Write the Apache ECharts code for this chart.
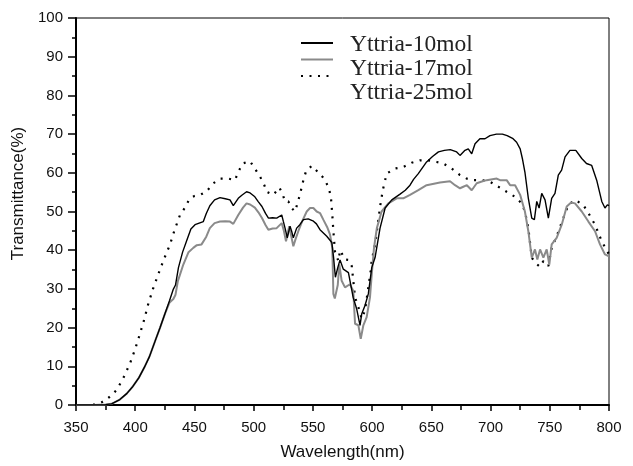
<!DOCTYPE html>
<html>
<head>
<meta charset="utf-8">
<script src="https://cdn.jsdelivr.net/npm/echarts@6/dist/echarts.min.js"></script>
<style>html,body{margin:0;padding:0;background:#fff;overflow:hidden}#c{width:100vw;height:100vh}</style>
</head>
<body>
<div id="c"></div>
<script>
const seriesNames = ['Yttria-10mol', 'Yttria-17mol', 'Yttria-25mol'];
const xTicks = [350, 400, 450, 500, 550, 600, 650, 700, 750, 800];
const yTicks = [0, 10, 20, 30, 40, 50, 60, 70, 80, 90, 100];

const wl10 = [350,365,375,380,387,393,398,403,408,412,417,421,425,429,432,434,436.5,440,443.5,447,450.5,454,457.5,460,463,467,471.6,476,480,482.8,487,490,494,497,501,504,507,510,512.5,516,519.4,523.7,525,526.5,528.4,530.7,532,533.5,536.3,539,542,546,550,553,556,561.7,566,567.5,569,571,572.9,575.7,580,581.6,584,587,589.8,591.2,594,596.8,599.7,602.5,606.7,611,616.6,623.6,628,632,635,639,646,651,656,661,666,671.4,674.2,678.4,681.2,684.1,686.9,691,695.3,699.5,705,710,714,719,722,725,727,729,731.9,734.8,737,739,741,743.2,746,748.8,751.6,754.4,757.2,760,762.9,767,772,777,781,785.4,789.6,793.9,796.6,798.6,800];
const t10 = [0,0,0.1,0.3,1.4,3,4.8,7,9.9,12.5,16.7,20,23.5,27,29.8,31,35.5,39.5,42.5,45.5,46.6,47,47.4,49.5,51.5,53,53.6,53.3,53,51.5,53.4,54.2,55.1,54.8,53.8,52.5,51.3,49.5,48.3,48.4,48.3,49.1,47.5,45.7,43.2,46.2,45,43.2,45.7,46.6,47.9,48.1,47.6,46.8,45.3,43.6,42,38,33,35.5,37.5,35.1,34.2,34.7,27.8,24.8,20.6,23.5,25.7,28.7,35.5,38.1,45.7,50.9,53,54.5,55.5,56.8,58.3,59.8,62.8,64.2,65.4,65.8,66,65.4,64.5,65.8,66.2,64.9,67.5,68.8,68.8,69.6,70,70,69.6,68.8,67.9,66.2,63.5,60.2,53.4,48.3,47.9,52.6,50.9,54.7,53,48.3,53.4,54.7,59.4,60.7,64.1,65.8,65.8,63.7,62.4,61.9,58.1,52.6,50.9,51.7,51.5];

const wl17 = [350,365,375,380,387,393,398,403,408,412,417,421,425,429,432.2,434,436,440.6,445,449,452,456,460,463,467,471.6,476,480,482.8,487,491,494,497,501,504,507,510,512.4,516,519.4,523.7,525.5,527.3,530,531.5,533.5,535.5,537.7,541,544.8,547.6,550.4,553.2,556,558.8,562,564.5,566.4,567.3,568.5,570.1,571,572.3,574.3,577.1,581.3,584.1,585.6,588.4,590.4,592.6,595.4,598.2,599.7,601.6,604,608,613.7,620.8,626.3,632,639,646,657.3,665.8,670,674.2,677,680,684.1,688.3,692,696.7,705.2,708,713.6,716.5,720.7,725,729,731.9,734.8,737.5,739.5,741.8,744.6,747.4,749.6,751.6,755.8,760.1,764.3,768,771.3,777,782.6,788.2,792.4,796.6,800];
const t17 = [0,0,0.1,0.3,1.4,3,4.8,7,9.9,12.5,16.7,20,23.5,26.5,27.4,28.5,32,36.3,39.5,40.6,41.3,41.5,43.5,45.7,47,47.4,47.5,47.4,46.8,49.1,51,52.1,51.8,51,49.8,48.3,46.5,45.3,45.6,45.7,47,45,42.3,46.2,44,41,43,44.9,47.5,50,50.9,50.9,50,49.6,47.9,46,44,40.6,28.7,27.5,27,31,36.3,32.1,30.4,31.2,29.5,21,20.6,17.1,20.6,22.7,27.8,33.8,40.6,45.7,50,52.1,53.4,53.4,54.3,55.5,56.8,57.5,57.8,56.8,56,56.4,56.8,55.5,57.3,57.7,58.1,58.5,58.1,58.1,56.8,56.8,54.3,50,44.9,38.1,40.2,37.6,40.2,38.1,40.2,36.3,41.5,43.2,46.6,51.3,52.3,52.1,50,47.4,44.9,41.5,38.9,38.4];

const wl25 = [350,360,366,371.7,378,384.4,390,395.6,400,404,407.5,411,415,419.5,424,429.4,433,437.8,442,446,450,454.7,460,466,472,478.6,484.2,487,490.7,496.9,501,505.4,509,511,516.6,521.7,524.5,526.5,529.3,532,534.9,536.8,539,542,544.2,549,554.6,558,561,563.9,565.3,566.4,567.3,568.7,570.1,571.5,573,574.3,577.1,580,582.8,585.6,588.4,591.2,594,596.8,598.8,599.6,602.5,604.4,606.7,609,612.3,619.3,626.3,633.4,640.4,647.4,654.5,660.1,667.2,674.2,679.9,685.5,692.5,699.5,706.6,713.6,720.7,726.3,729,731.9,734.8,737.5,741.8,744.6,748.8,751.6,755.8,761.4,765.7,771.3,778.3,782.6,788.2,793.9,800];
const t25 = [0,0,0.1,0.7,2,3.9,7,10.75,14.5,18.4,22,26.1,30,33.8,37.5,41.5,45,49.1,51,53.4,54,54.3,55.1,57.3,58.5,58.5,58.1,60.2,62.4,63,61.1,59,56.8,55.1,54.3,56.2,54.4,52.6,52.6,50.9,50,51.9,54.3,58.1,60.4,61.8,60.1,59,57.7,55.5,53.4,49.1,44.9,39.5,38.5,37.2,40,39.8,37.6,37.5,35.9,27.8,25.3,22.3,24.4,30.4,34.7,37.2,41.5,45.7,51.2,55.5,59.8,61.1,61.5,62.6,63.2,63.2,62.8,62.4,61.1,59.4,58.5,58.1,58.1,57.7,56.4,55.1,53.8,52.1,50,45.7,38.1,36.8,35.7,37.2,35.9,40.6,43.6,48.3,51.7,53,51.7,49.6,46.6,42.3,38.9];

const zip = (xs, ys) => xs.map((x, i) => [x, ys[i]]);

const chart = echarts.init(document.getElementById('c'), null, {renderer: 'canvas'});
const labelFont = {fontFamily: 'Liberation Sans, Arial, sans-serif', fontSize: 15, color: '#111'};
const legendCommon = {
  orient: 'vertical', itemWidth: 32, selectedMode: false,
  data: seriesNames
};
chart.setOption({
  animation: false,
  backgroundColor: '#fff',
  grid: {left: 76, right: 24, top: 18, bottom: 57, show: true, borderColor: '#000', borderWidth: 1},
  legend: [
    Object.assign({}, legendCommon, {
      left: 295, top: 34, itemHeight: 8, itemGap: 9.3,
      formatter: () => '',
      itemStyle: {opacity: 0},
      textStyle: {fontSize: 1}
    }),
    Object.assign({}, legendCommon, {
      left: 340, top: 28, itemWidth: 0, itemHeight: 0, itemGap: 0,
      icon: 'none',
      textStyle: {fontFamily: 'Liberation Serif, Times New Roman, serif', fontSize: 23.5, color: '#222', lineHeight: 23.5}
    })
  ],
  xAxis: {
    type: 'value', min: xTicks[0], max: xTicks[xTicks.length - 1], interval: 50,
    name: 'Wavelength(nm)', nameLocation: 'middle', nameGap: 39,
    nameTextStyle: {fontFamily: 'Liberation Sans, Arial, sans-serif', fontSize: 17, color: '#111', verticalAlign: 'top'},
    axisLine: {show: true, lineStyle: {color: '#000', width: 2}},
    axisTick: {show: true, length: 6, lineStyle: {color: '#000', width: 1.5}},
    minorTick: {show: true, splitNumber: 2, length: 5, lineStyle: {color: '#000', width: 1.5}},
    axisLabel: Object.assign({margin: 15}, labelFont),
    splitLine: {show: false}, minorSplitLine: {show: false}
  },
  yAxis: {
    type: 'value', min: yTicks[0], max: yTicks[yTicks.length - 1], interval: 10,
    name: 'Transmittance(%)', nameLocation: 'middle', nameGap: 44, nameRotate: 90,
    nameTextStyle: {fontFamily: 'Liberation Sans, Arial, sans-serif', fontSize: 17, color: '#111', padding: [0, 0, 0, 36]},
    axisLine: {show: true, lineStyle: {color: '#000', width: 2}},
    axisTick: {show: true, length: 8, lineStyle: {color: '#000', width: 1.5}},
    minorTick: {show: true, splitNumber: 2, length: 4, lineStyle: {color: '#000', width: 1.5}},
    axisLabel: Object.assign({margin: 13}, labelFont),
    splitLine: {show: false}, minorSplitLine: {show: false}
  },
  series: [
    {name: seriesNames[0], type: 'line', data: zip(wl10, t10), symbol: 'none', smooth: false,
     lineStyle: {color: '#000', width: 1.4}, itemStyle: {color: '#000'}, z: 4},
    {name: seriesNames[1], type: 'line', data: zip(wl17, t17), symbol: 'none',
     lineStyle: {color: '#8a8a8a', width: 2}, itemStyle: {color: '#8a8a8a'}, z: 3},
    {name: seriesNames[2], type: 'line', data: zip(wl25, t25), symbol: 'none',
     lineStyle: {color: '#000', width: 2.2, type: [2, 6.5]}, itemStyle: {color: '#000'}, z: 2}
  ]
});
window.addEventListener('resize', () => chart.resize());
</script>
</body>
</html>
